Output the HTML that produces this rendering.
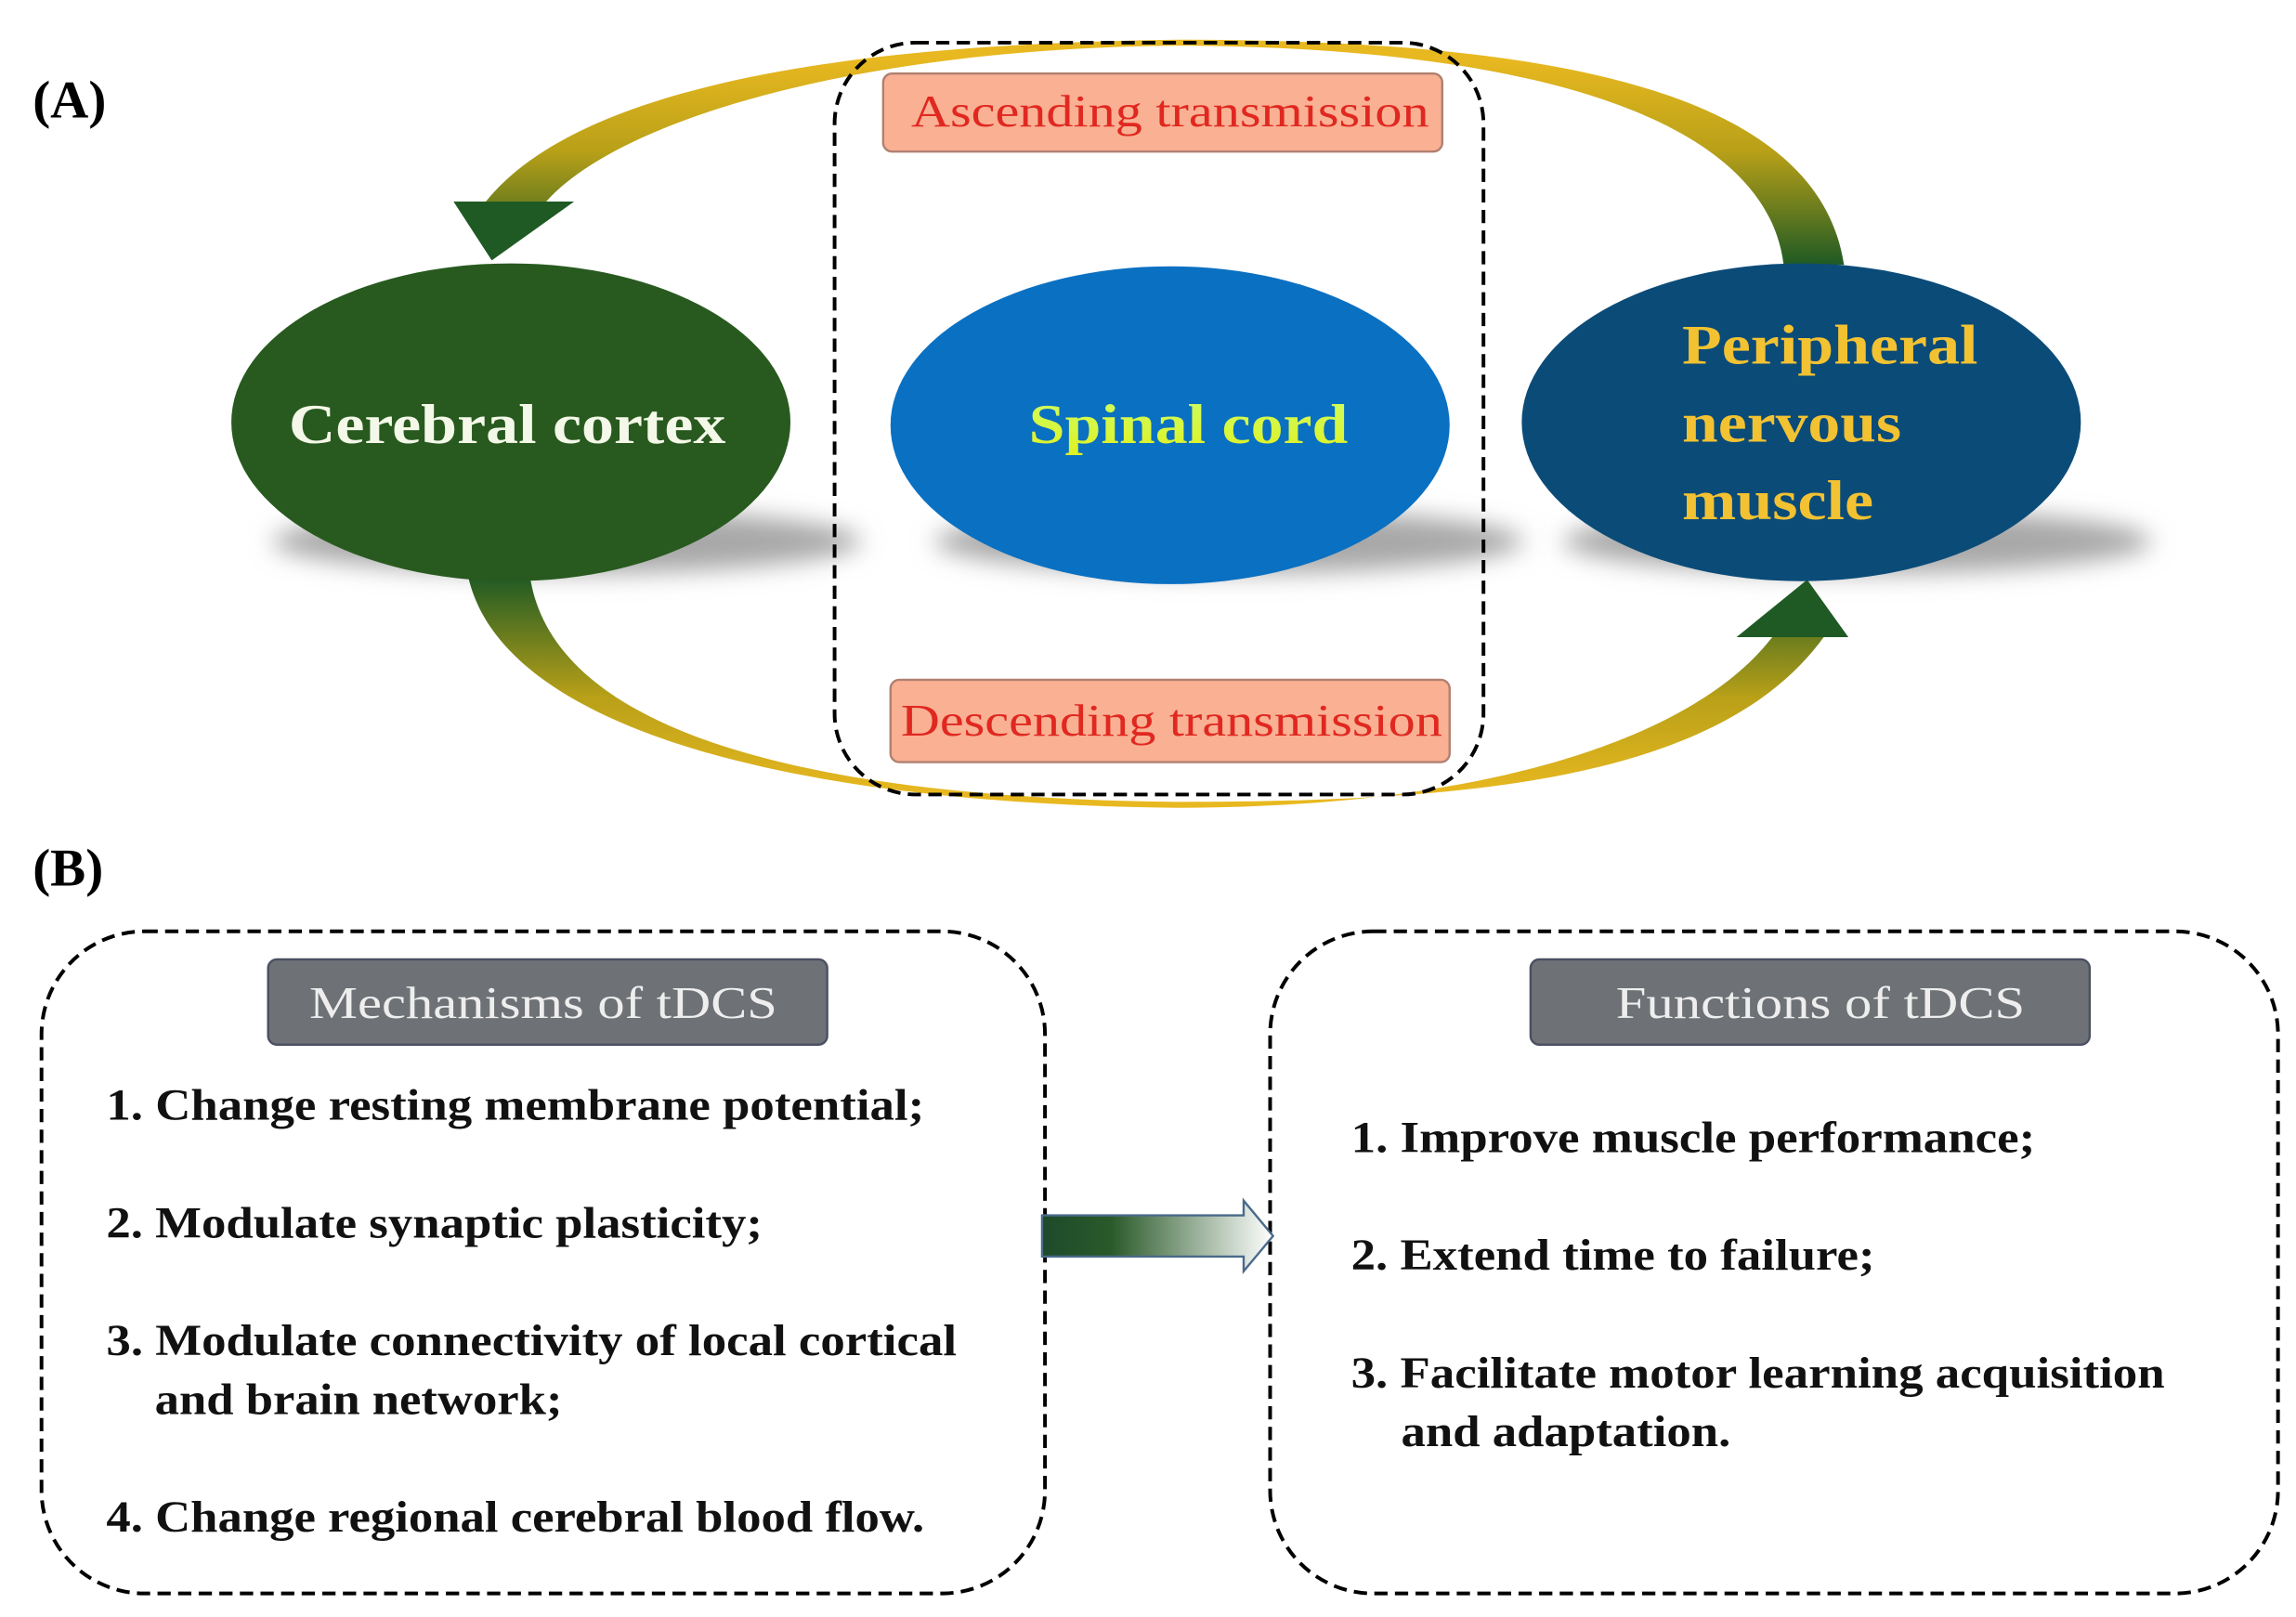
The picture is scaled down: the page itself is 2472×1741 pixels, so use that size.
<!DOCTYPE html>
<html><head><meta charset="utf-8"><style>html,body{margin:0;padding:0;background:#fff}svg{display:block}</style></head>
<body>
<svg width="2472" height="1741" viewBox="0 0 1560 1099" xmlns="http://www.w3.org/2000/svg" font-family="'Liberation Serif', serif">
<defs>
<linearGradient id="gt" gradientUnits="userSpaceOnUse" x1="0" y1="40" x2="0" y2="180"><stop offset="0" stop-color="#e8b820"/><stop offset="0.45" stop-color="#b8a018"/><stop offset="1" stop-color="#1f5a24"/></linearGradient>
<linearGradient id="gb" gradientUnits="userSpaceOnUse" x1="0" y1="392" x2="0" y2="540"><stop offset="0" stop-color="#1f5a24"/><stop offset="0.55" stop-color="#b8a018"/><stop offset="1" stop-color="#e8b820"/></linearGradient>
<linearGradient id="ga" x1="0" y1="0" x2="1" y2="0"><stop offset="0" stop-color="#1d4a2a"/><stop offset="0.3" stop-color="#2a5a2a"/><stop offset="1" stop-color="#ffffff"/></linearGradient>
<linearGradient id="gs" x1="0" y1="0" x2="0" y2="1"><stop offset="0" stop-color="#ccff66"/><stop offset="1" stop-color="#e0f020"/></linearGradient>
<filter id="bl" x="-20%" y="-100%" width="140%" height="300%"><feGaussianBlur stdDeviation="8"/></filter>
</defs>
<text x="22" y="80" font-size="36" font-weight="bold">(A)</text>
<ellipse cx="385" cy="368" rx="200" ry="22" fill="#a8a8a8" filter="url(#bl)"/>
<ellipse cx="835" cy="368" rx="200" ry="22" fill="#a8a8a8" filter="url(#bl)"/>
<ellipse cx="1262" cy="368" rx="200" ry="22" fill="#a8a8a8" filter="url(#bl)"/>
<path d="M330,137 C390,62 560,30 800,27 C1050,27 1235,60 1253,180 L1212,180 C1200,80 1040,32 800,31 C580,33 420,82 371,137 Z" fill="url(#gt)"/>
<polygon points="308,137 390,137 334,177" fill="#1f5a24"/>
<path d="M318,392 C340,490 520,546 800,549 C1000,549 1150,505 1205,432 L1240,432 C1170,530 1000,545 800,545 C525,542 375,490 360,392 Z" fill="url(#gb)"/>
<polygon points="1180,433 1256,433 1228,394" fill="#1f5a24"/>
<ellipse cx="347" cy="287" rx="190" ry="108" fill="#285a1f"/>
<ellipse cx="795" cy="289" rx="190" ry="108" fill="#0a70c2"/>
<ellipse cx="1224" cy="287" rx="190" ry="108" fill="#0b4b78"/>
<rect x="567" y="29" width="441" height="511" rx="55" fill="none" stroke="#000" stroke-width="2.5" stroke-dasharray="9,5"/>
<rect x="600" y="50" width="380" height="53" rx="6" fill="#f9b093" stroke="#b08070" stroke-width="1.5"/>
<rect x="605" y="462" width="380" height="56" rx="6" fill="#f9b093" stroke="#b08070" stroke-width="1.5"/>
<text x="619" y="86" font-size="31" fill="#e02820" textLength="352" lengthAdjust="spacingAndGlyphs">Ascending transmission</text>
<text x="612" y="500" font-size="31" fill="#e02820" textLength="368" lengthAdjust="spacingAndGlyphs">Descending transmission</text>
<text x="196" y="301" font-size="38" font-weight="bold" fill="#f4f8e8" textLength="297" lengthAdjust="spacingAndGlyphs">Cerebral cortex</text>
<text x="699" y="301" font-size="38" font-weight="bold" fill="url(#gs)" textLength="217" lengthAdjust="spacingAndGlyphs">Spinal cord</text>
<g font-size="38" font-weight="bold" fill="#f2c232">
<text x="1143" y="247" textLength="201" lengthAdjust="spacingAndGlyphs">Peripheral</text>
<text x="1143" y="300" textLength="149" lengthAdjust="spacingAndGlyphs">nervous</text>
<text x="1143" y="353" textLength="130" lengthAdjust="spacingAndGlyphs">muscle</text>
</g>
<text x="22" y="602" font-size="36" font-weight="bold">(B)</text>
<rect x="28" y="633" width="682" height="450" rx="70" fill="none" stroke="#000" stroke-width="2.5" stroke-dasharray="9,5"/>
<rect x="863" y="633" width="685" height="450" rx="70" fill="none" stroke="#000" stroke-width="2.5" stroke-dasharray="9,5"/>
<rect x="182" y="652" width="380" height="58" rx="6" fill="#6e7176" stroke="#4a5060" stroke-width="1.5"/>
<rect x="1040" y="652" width="380" height="58" rx="6" fill="#6e7176" stroke="#4a5060" stroke-width="1.5"/>
<text x="210" y="692" font-size="31" fill="#eeeeee" textLength="318" lengthAdjust="spacingAndGlyphs">Mechanisms of tDCS</text>
<text x="1098" y="692" font-size="31" fill="#eeeeee" textLength="278" lengthAdjust="spacingAndGlyphs">Functions of tDCS</text>
<g font-size="30" font-weight="bold" fill="#111">
<text x="72" y="761" textLength="556" lengthAdjust="spacingAndGlyphs">1. Change resting membrane potential;</text>
<text x="72" y="841" textLength="446" lengthAdjust="spacingAndGlyphs">2. Modulate synaptic plasticity;</text>
<text x="72" y="921" textLength="578" lengthAdjust="spacingAndGlyphs">3. Modulate connectivity of local cortical</text>
<text x="105" y="961" textLength="277" lengthAdjust="spacingAndGlyphs">and brain network;</text>
<text x="72" y="1041" textLength="556" lengthAdjust="spacingAndGlyphs">4. Change regional cerebral blood flow.</text>
<text x="918" y="783" textLength="465" lengthAdjust="spacingAndGlyphs">1. Improve muscle performance;</text>
<text x="918" y="863" textLength="356" lengthAdjust="spacingAndGlyphs">2. Extend time to failure;</text>
<text x="918" y="943" textLength="553" lengthAdjust="spacingAndGlyphs">3. Facilitate motor learning acquisition</text>
<text x="952" y="983" textLength="224" lengthAdjust="spacingAndGlyphs">and adaptation.</text>
</g>
<path d="M708,826 L845,826 L845,816 L865,840 L845,864 L845,854 L708,854 Z" fill="url(#ga)" stroke="#4a6a8a" stroke-width="1.5"/>
</svg>
</body></html>
